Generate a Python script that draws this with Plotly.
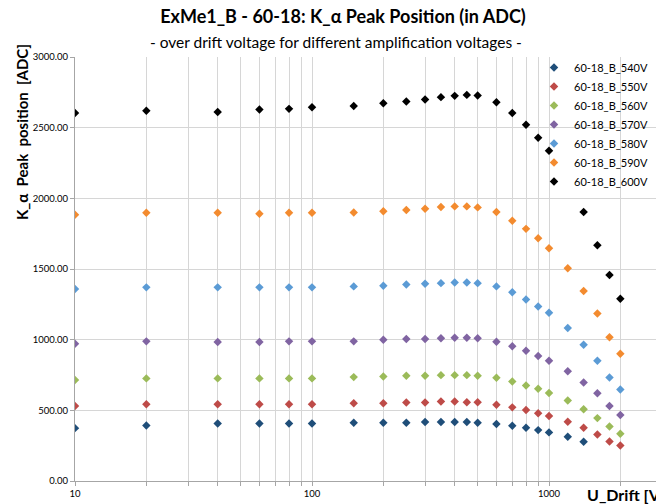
import plotly.graph_objects as go

# Drift voltage U_Drift [V]
u_drift = [10, 20, 40, 60, 80, 100, 150, 200, 250, 300, 350, 400, 450, 500,
           600, 700, 800, 900, 1000, 1200, 1400, 1600, 1800, 2000]

# K_alpha peak position [ADC] per amplification voltage
peak_540 = [374, 393, 407, 407, 407, 407, 412, 412, 412, 417, 417, 417, 417, 412,
            403, 391, 377, 360, 344, 313, 277]
peak_550 = [531, 543, 543, 543, 543, 543, 550, 550, 555, 555, 562, 562, 557, 557,
            540, 521, 502, 479, 460, 419, 377, 329, 280, 251]
peak_560 = [714, 726, 726, 726, 726, 726, 735, 739, 744, 744, 749, 749, 749, 744,
            730, 704, 675, 652, 623, 569, 507, 445, 386, 334]
peak_570 = [971, 988, 983, 983, 988, 988, 988, 1000, 1005, 1005, 1010, 1014, 1014, 1010,
            986, 953, 922, 884, 851, 777, 697, 621, 531, 467]
peak_580 = [1358, 1370, 1370, 1370, 1370, 1370, 1377, 1382, 1391, 1396, 1400, 1405, 1405, 1400,
            1377, 1336, 1284, 1235, 1190, 1083, 964, 851, 732, 647]
peak_590 = [1884, 1898, 1898, 1891, 1898, 1898, 1900, 1908, 1917, 1927, 1938, 1943, 1943, 1936,
            1903, 1841, 1784, 1718, 1647, 1505, 1344, 1185, 1017, 900]
peak_600 = [2604, 2619, 2611, 2628, 2633, 2645, 2654, 2673, 2685, 2699, 2716, 2725, 2732, 2727,
            2680, 2604, 2521, 2429, 2336, None, 1903, 1668, 1457, 1289]

series_names = ["60-18_B_540V", "60-18_B_550V", "60-18_B_560V", "60-18_B_570V",
                "60-18_B_580V", "60-18_B_590V", "60-18_B_600V"]
series_values = [peak_540, peak_550, peak_560, peak_570, peak_580, peak_590, peak_600]
series_colors = ["#1F4E79", "#BE4B48", "#9BBB59", "#8064A2", "#5B9BD5", "#F38B2F", "#000000"]

y_ticks = [0, 500, 1000, 1500, 2000, 2500, 3000]
y_tick_labels = [f"{v:.2f}" for v in y_ticks]
x_grid = [10, 20, 30, 40, 50, 60, 70, 80, 90, 100, 200, 300, 400, 500, 600, 700, 800, 900,
          1000, 2000, 3000]
x_tick_labels = [str(v) if v in (10, 100, 1000) else "" for v in x_grid]

FONT = "Lato, 'Open Sans', sans-serif"

fig = go.Figure()
for name, vals, col in zip(series_names, series_values, series_colors):
    fig.add_trace(go.Scatter(
        x=u_drift[:len(vals)], y=vals, name=name, mode="markers",
        marker=dict(symbol="diamond", size=6.5, color=col, line=dict(width=0)),
    ))

W, H = 656, 504
L, R, T, B = 75, 0, 57, 23
pw, ph = W - L - R, H - T - B


def px_x(p):
    return (p - L) / pw


def px_y(p):
    return (H - B - p) / ph


fig.update_layout(
    width=W, height=H,
    margin=dict(l=L, r=R, t=T, b=B, pad=0),
    paper_bgcolor="white", plot_bgcolor="white",
    font=dict(family=FONT, color="#000000"),
    showlegend=True,
    title=dict(
        text="<b>ExMe1_B - 60-18: K_α Peak Position (in ADC)</b>",
        font=dict(size=18, family=FONT, color="#000000"),
        x=343 / W, xanchor="center", xref="container",
        y=1 - 17 / H, yanchor="middle", yref="container",
    ),
    legend=dict(
        x=px_x(534), xanchor="left", y=px_y(53), yanchor="top",
        bgcolor="rgba(0,0,0,0)", borderwidth=0,
        font=dict(size=11, family=FONT, color="#000000"),
        itemwidth=30, tracegroupgap=0,
    ),
    xaxis=dict(
        type="log", range=[1, 1 + pw / 237],
        tickvals=x_grid, ticktext=x_tick_labels,
        showgrid=True, gridcolor="#D6D6D6", gridwidth=1,
        showline=True, linecolor="#A6A6A6", linewidth=1,
        ticks="outside", ticklen=4, tickcolor="#A6A6A6",
        tickfont=dict(size=9.5, family=FONT, color="#000000"),
        zeroline=False,
    ),
    yaxis=dict(
        range=[0, 3000], tickvals=y_ticks, ticktext=y_tick_labels,
        showgrid=True, gridcolor="#D6D6D6", gridwidth=1,
        showline=True, linecolor="#A6A6A6", linewidth=1,
        ticks="outside", ticklen=4, tickcolor="#A6A6A6",
        tickfont=dict(size=9.5, family=FONT, color="#000000"),
        zeroline=False,
    ),
    shapes=[dict(
        type="rect", xref="paper", yref="paper", layer="between",
        x0=px_x(553), x1=1.0, y0=px_y(192), y1=px_y(57),
        fillcolor="white", line=dict(width=0),
    )],
    annotations=[
        dict(text="- over drift voltage for different amplification voltages -",
             xref="paper", yref="paper", x=px_x(336), y=px_y(42),
             xanchor="center", yanchor="middle", showarrow=False,
             font=dict(size=15.5, family=FONT, color="#000000")),
        dict(text="<b>K_α\u00a0 Peak\u00a0 position\u00a0 [ADC]</b>",
             xref="paper", yref="paper", x=px_x(22), y=px_y(42),
             xanchor="center", yanchor="top", textangle=-90, showarrow=False,
             font=dict(size=15, family=FONT, color="#000000")),
        dict(text="<b>U_Drift [V]</b>",
             xref="paper", yref="paper", x=px_x(585), y=px_y(494),
             xanchor="left", yanchor="middle", showarrow=False,
             font=dict(size=16, family=FONT, color="#000000")),
    ],
)

fig.write_html("out.html")
